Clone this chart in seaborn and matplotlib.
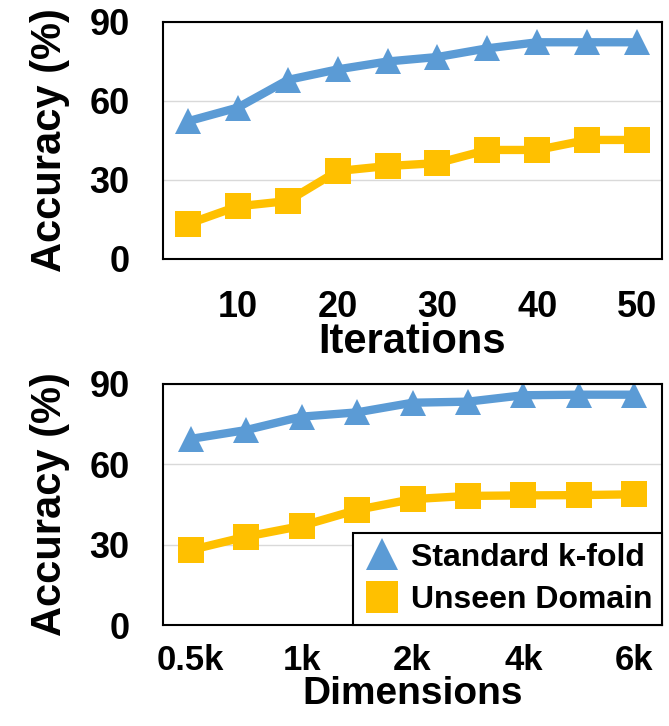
import pandas as pd
import seaborn as sns
import matplotlib.pyplot as plt
from matplotlib.lines import Line2D

# waarden
iterations = [5, 10, 15, 20, 25, 30, 35, 40, 45, 50]
iter_kfold = [52.3, 57.5, 68, 72, 75, 76.7, 80, 82.3, 82.3, 82.3]
iter_unseen = [13.3, 20, 22, 33.4, 35.3, 36.4, 41.4, 41.4, 45.2, 45.2]

dimensions = ['0.5k', '0.75k', '1k', '1.5k', '2k', '3k', '4k', '5k', '6k']
dim_kfold = [69.5, 72.8, 77.8, 79.4, 83, 83.4, 85.8, 86, 86]
dim_unseen = [28, 33, 37, 43, 47, 48.2, 48.4, 48.5, 48.8]

series = ['Standard k-fold', 'Unseen Domain']
colors = {'Standard k-fold': '#5B9BD5', 'Unseen Domain': '#FFC000'}
markers = {'Standard k-fold': '^', 'Unseen Domain': 's'}

df_iter = pd.DataFrame({
    'x': iterations * 2,
    'acc': iter_kfold + iter_unseen,
    'method': [series[0]] * len(iterations) + [series[1]] * len(iterations),
})
df_dim = pd.DataFrame({
    'x': dimensions * 2,
    'acc': dim_kfold + dim_unseen,
    'method': [series[0]] * len(dimensions) + [series[1]] * len(dimensions),
})

sns.set_style('white')
plt.rcParams['font.family'] = ['Liberation Sans', 'DejaVu Sans']
plt.rcParams.update({'text.color': 'black', 'axes.labelcolor': 'black',
                     'xtick.color': 'black', 'ytick.color': 'black'})

fig = plt.figure(figsize=(6.69, 7.26), dpi=100)
ax1 = fig.add_axes([0.2437, 0.6433, 0.7458, 0.3264])
ax2 = fig.add_axes([0.2437, 0.1391, 0.7458, 0.332])

for ax, df in [(ax1, df_iter), (ax2, df_dim)]:
    sns.lineplot(data=df, x='x', y='acc', hue='method', style='method',
                 markers=markers, dashes=False, palette=colors, lw=6,
                 markersize=19, markeredgewidth=0, ax=ax, legend=False, sort=False)
    ax.set_ylim(0, 90)
    ax.set_yticks([0, 30, 60, 90])
    ax.yaxis.grid(True, color='#D9D9D9', lw=1)
    ax.xaxis.grid(False)
    for s in ax.spines.values():
        s.set_visible(True)
        s.set_color('black')
        s.set_linewidth(1.5)
    ax.tick_params(axis='y', length=0, pad=24, labelsize=26)
    for lab in ax.get_yticklabels():
        lab.set_fontweight('bold')
    ax.set_ylabel('Accuracy (%)', fontsize=30, fontweight='bold', labelpad=14)

ax1.tick_params(axis='x', length=0, pad=22, labelsize=26)
ax2.tick_params(axis='x', length=0, pad=14, labelsize=25)
ax1.set_xlabel('Iterations', fontsize=30, fontweight='bold', labelpad=-2)
ax2.set_xlabel('Dimensions', fontsize=28, fontweight='bold', labelpad=-1)

ax1.set_xlim(2.5, 52.5)
ax1.set_xticks(iterations[1::2])
ax1.set_xticklabels([str(v) for v in iterations[1::2]], fontweight='bold')

ax2.set_xlim(-0.5, len(dimensions) - 0.5)
ax2.set_xticks(range(0, len(dimensions), 2))
ax2.set_xticklabels(dimensions[::2], fontweight='bold')

handles = [Line2D([], [], ls='none', marker=markers[s], color=colors[s], markersize=23, markeredgewidth=0)
           for s in series]
leg = ax2.legend(handles, series, loc='lower right', frameon=True, fancybox=False,
                 edgecolor='black', framealpha=1, borderaxespad=0,
                 prop={'weight': 'bold', 'size': 23}, handletextpad=0.3,
                 borderpad=0.3, labelspacing=0.4, handlelength=1.2)
leg.get_frame().set_linewidth(1.5)

plt.savefig('out.png', dpi=100)
